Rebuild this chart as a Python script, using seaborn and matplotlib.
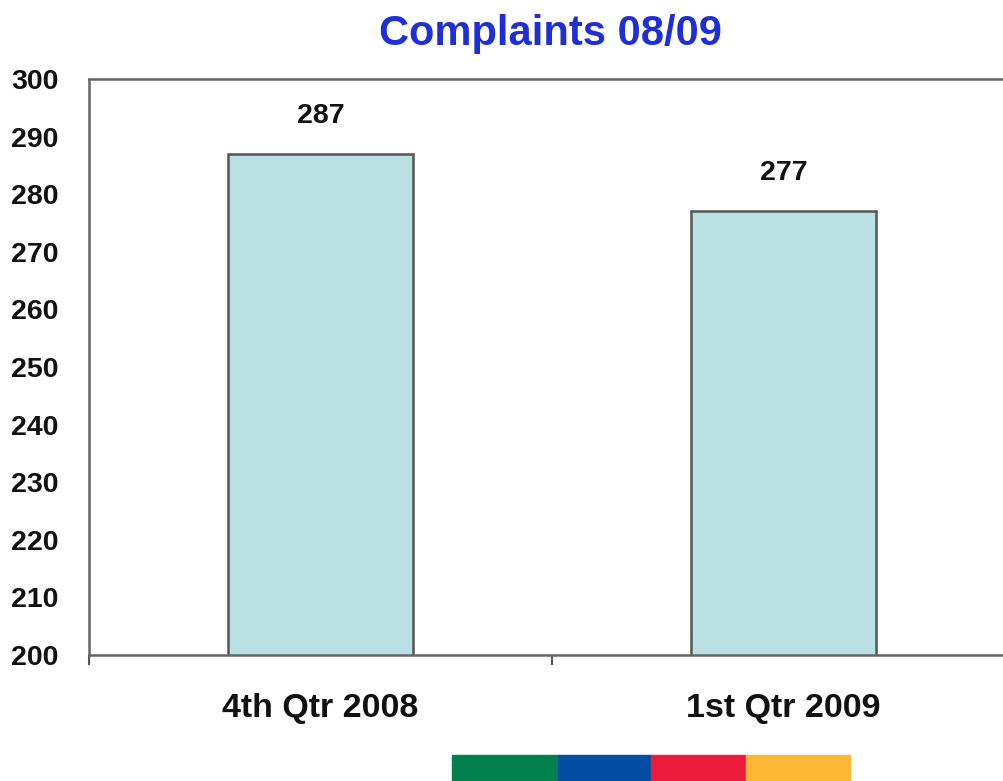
import numpy as np
import pandas as pd
import seaborn as sns
import matplotlib.pyplot as plt
from matplotlib.patches import Rectangle

# Chart data
quarters = ['4th Qtr 2008', '1st Qtr 2009']
complaints = [287, 277]

# Decorative strip colours at the bottom of the slide
stripColors = ['#00804f', '#034ea2', '#ed1a3b', '#fdb933']
stripEdges = [452, 558, 651, 746, 850]

df = pd.DataFrame({'Quarter': quarters, 'Complaints': complaints})

sns.set_theme(style='white')
plt.rcParams['font.family'] = ['Liberation Sans', 'DejaVu Sans']

fig = plt.figure(figsize=(10.04, 7.81), dpi=100)
ax = fig.add_axes([89 / 1004, 1 - 655 / 781, 926 / 1004, 576 / 781])

sns.barplot(data=df, x='Quarter', y='Complaints', ax=ax, color='#b9e0e3',
            saturation=1, width=0.4, edgecolor='#555555', linewidth=1.8)

ax.set_ylim(200, 300)
ax.set_xlim(-0.5, len(quarters) - 0.5)
ax.set_yticks(np.arange(200, 301, 10))
ax.set_xlabel('')
ax.set_ylabel('')

# Value labels above bars
for i, v in enumerate(complaints):
    ax.text(i, v + 6.6, str(v), ha='center', va='center', fontsize=20.5,
            fontweight='bold', color='#111111')

# Borders: frame in gray
for side in ['left', 'bottom', 'top', 'right']:
    ax.spines[side].set_visible(True)
    ax.spines[side].set_color('#666666')
    ax.spines[side].set_linewidth(1.8)

# Y ticks outward, category ticks between bars
ax.tick_params(axis='y', direction='out', length=8, width=1.5, color='#555555',
               labelsize=20.5, pad=14)
ax.tick_params(axis='x', which='major', length=0, labelsize=24.5, pad=27)
ax.set_xticks(np.arange(-0.5, len(quarters)), minor=True)
ax.tick_params(axis='x', which='minor', direction='out', length=7, width=1.5,
               color='#555555', bottom=True)
for lbl in ax.get_yticklabels() + ax.get_xticklabels():
    lbl.set_fontweight('bold')
    lbl.set_color('#111111')

fig.text(550 / 1004, 1 - 34 / 781, 'Complaints 08/09', ha='center', va='center',
         fontsize=30, fontweight='bold', color='#1f2fd8')

# Colour strip at the bottom
for c, x0, x1 in zip(stripColors, stripEdges[:-1], stripEdges[1:]):
    fig.patches.append(Rectangle((x0 / 1004, 0), (x1 - x0) / 1004, 26 / 781,
                                 transform=fig.transFigure, color=c, zorder=5))

fig.savefig('out.png', dpi=100)
